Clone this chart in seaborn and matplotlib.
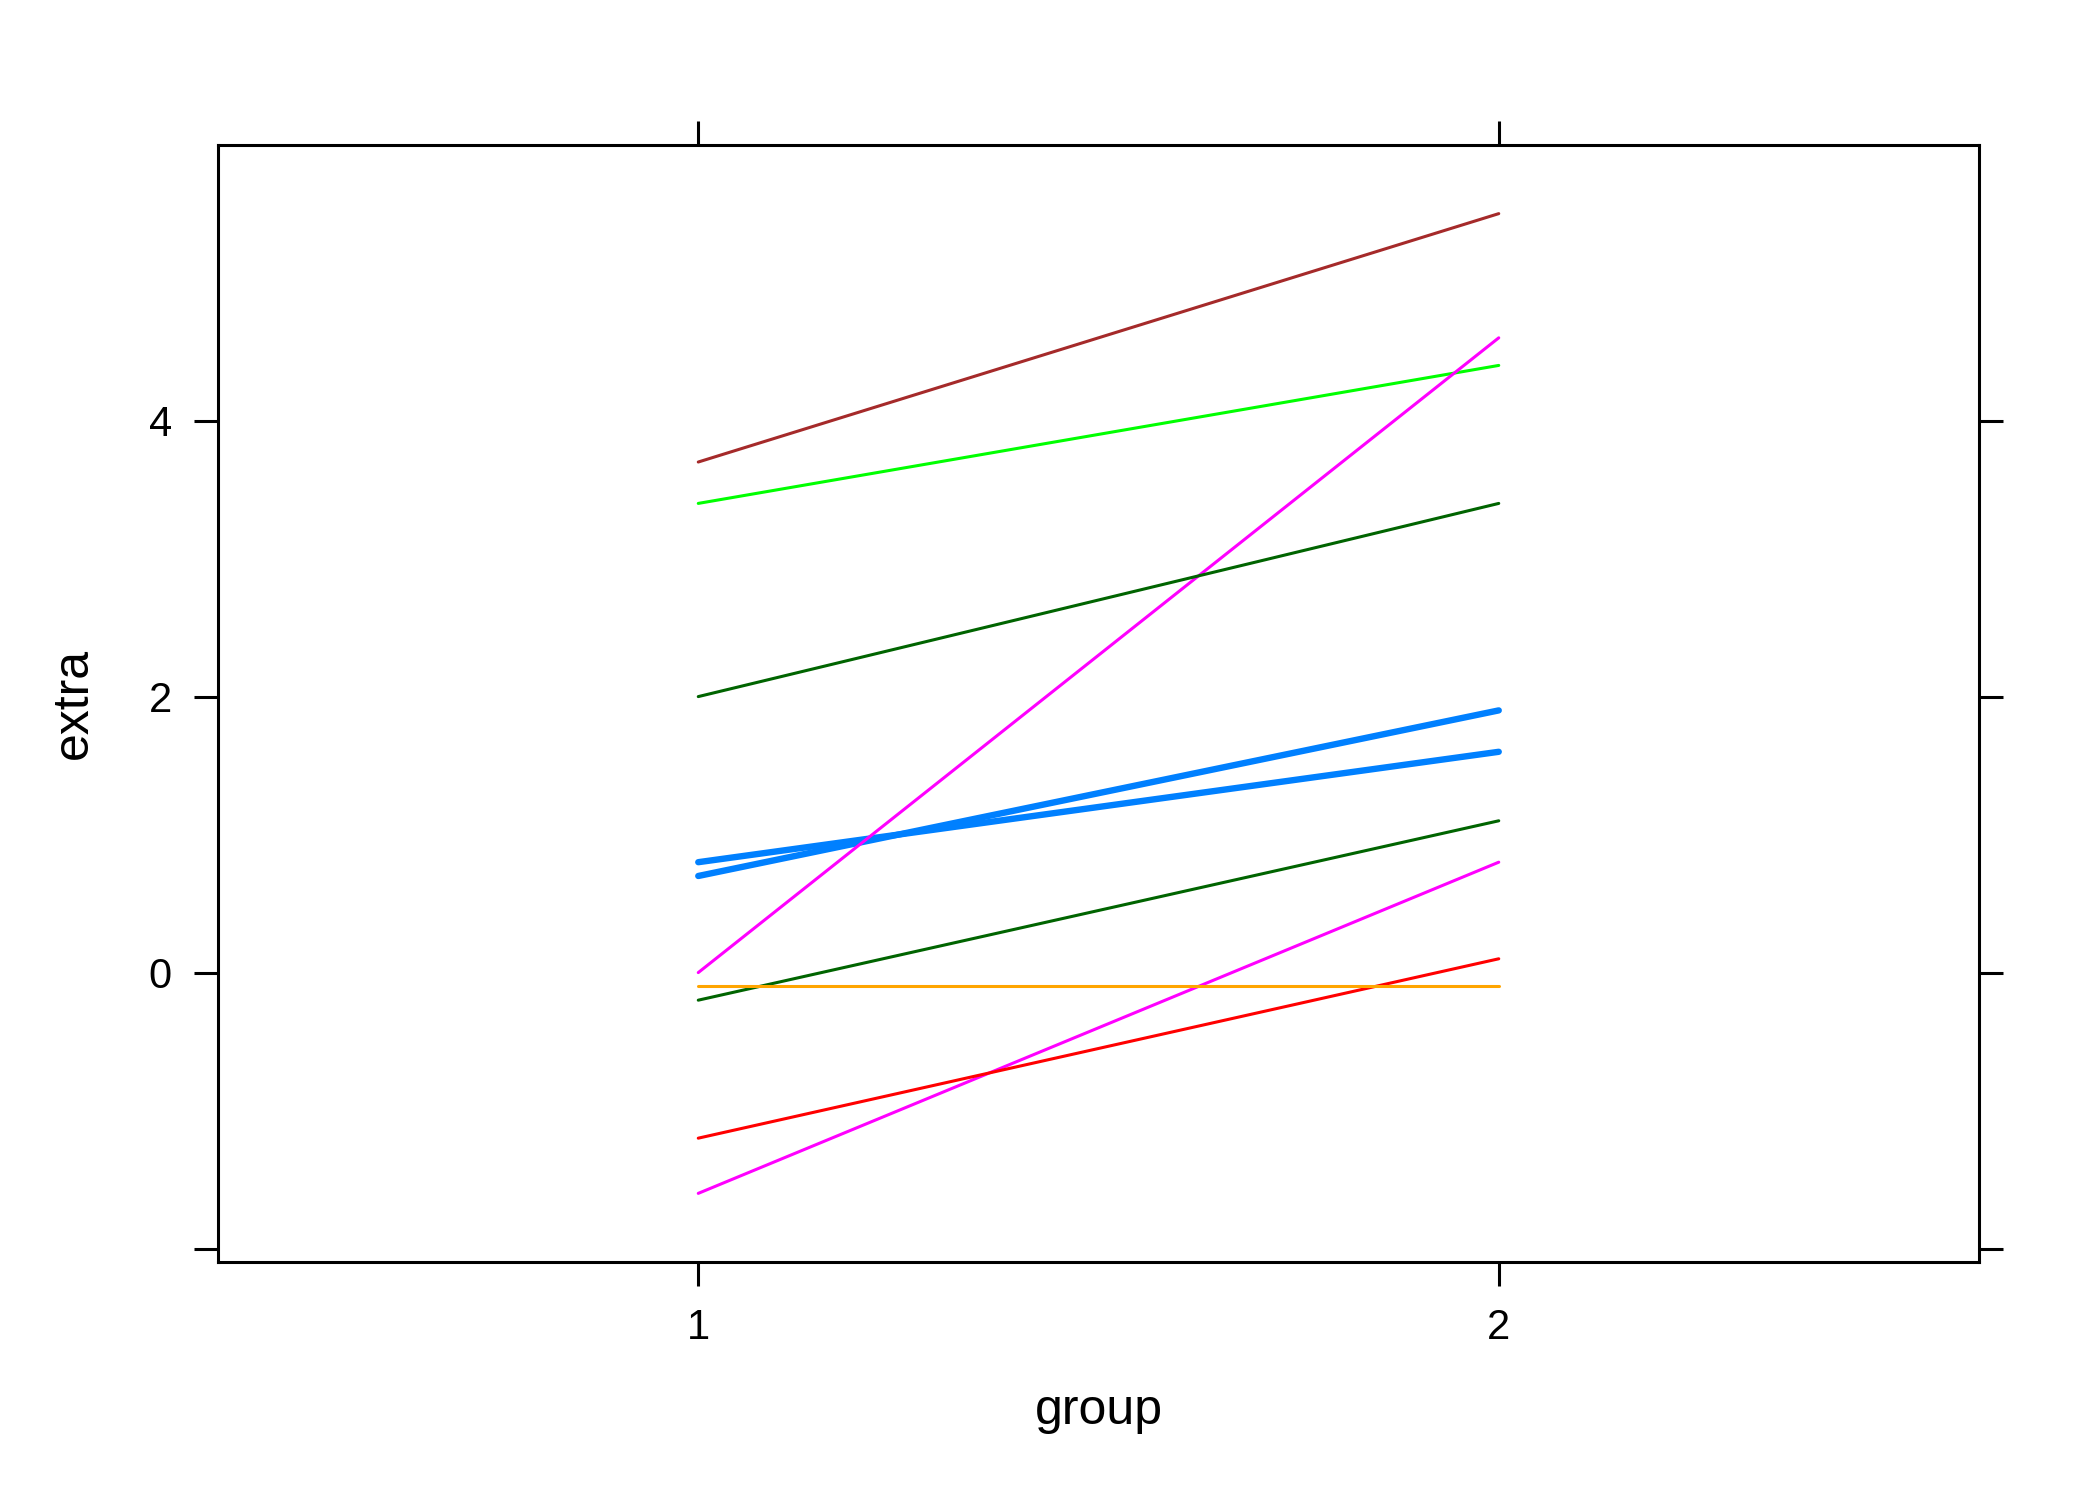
import pandas as pd
import matplotlib
matplotlib.use('Agg')
import matplotlib.pyplot as plt
import seaborn as sns

sns.set_style('white')
plt.rcParams['font.family'] = ['Liberation Sans', 'DejaVu Sans']
plt.rcParams['text.color'] = 'black'
plt.rcParams['axes.labelcolor'] = 'black'

# sleep data: extra hours of sleep for 10 subjects under two drugs
subject_ids = [1, 2, 3, 4, 5, 6, 7, 8, 9, 10]
extra_group1 = [0.7, -1.6, -0.2, -1.2, -0.1, 3.4, 3.7, 0.8, 0.0, 2.0]
extra_group2 = [1.9, 0.8, 1.1, 0.1, -0.1, 4.4, 5.5, 1.6, 4.6, 3.4]
groups = [1, 2]

# lattice superpose colours, recycled over subjects
line_colors = ['#0080ff', '#ff00ff', '#006400', '#ff0000', '#ffa500',
               '#00ff00', '#a52a2a', '#0080ff', '#ff00ff', '#006400']
line_widths = [2.3, 1.1, 1.1, 1.1, 1.1, 1.1, 1.1, 2.3, 1.1, 1.1]

sleep = pd.DataFrame({
    'ID': subject_ids * 2,
    'group': [groups[0]] * 10 + [groups[1]] * 10,
    'extra': extra_group1 + extra_group2,
})

fig = plt.figure(figsize=(10.5, 7.5), dpi=200)
ax = fig.add_axes([0.1038, 0.1587, 0.8386, 0.7446])

sns.lineplot(data=sleep, x='group', y='extra', hue='ID', size='ID',
             palette=dict(zip(subject_ids, line_colors)),
             sizes=dict(zip(subject_ids, line_widths)),
             legend=False, solid_capstyle='round', ax=ax)

ax.set_xlim(0.4, 2.6)
ax.set_ylim(-2.097, 5.997)
ax.set_xticks(groups)
ax.set_xticklabels(['1', '2'])
ax.set_yticks([-2, 0, 2, 4])
ax.set_yticklabels(['', '0', '2', '4'])

for s in ax.spines.values():
    s.set_visible(True)
    s.set_color('black')
    s.set_linewidth(1.1)

ax.tick_params(direction='out', length=8.6, width=1.1, pad=8, colors='black',
               labelcolor='black', top=True, right=True, bottom=True, left=True,
               labeltop=False, labelright=False, labelsize=15)

ax.set_xlabel('group', fontsize=18, color='black')
ax.xaxis.label.set_va('baseline')
ax.xaxis.set_label_coords(0.5, -0.145)
ax.set_ylabel('extra', fontsize=18, color='black')
ax.yaxis.label.set_va('baseline')
ax.yaxis.set_label_coords(-0.0744, 0.5)

fig.savefig('out.png', dpi=200, facecolor='white')
